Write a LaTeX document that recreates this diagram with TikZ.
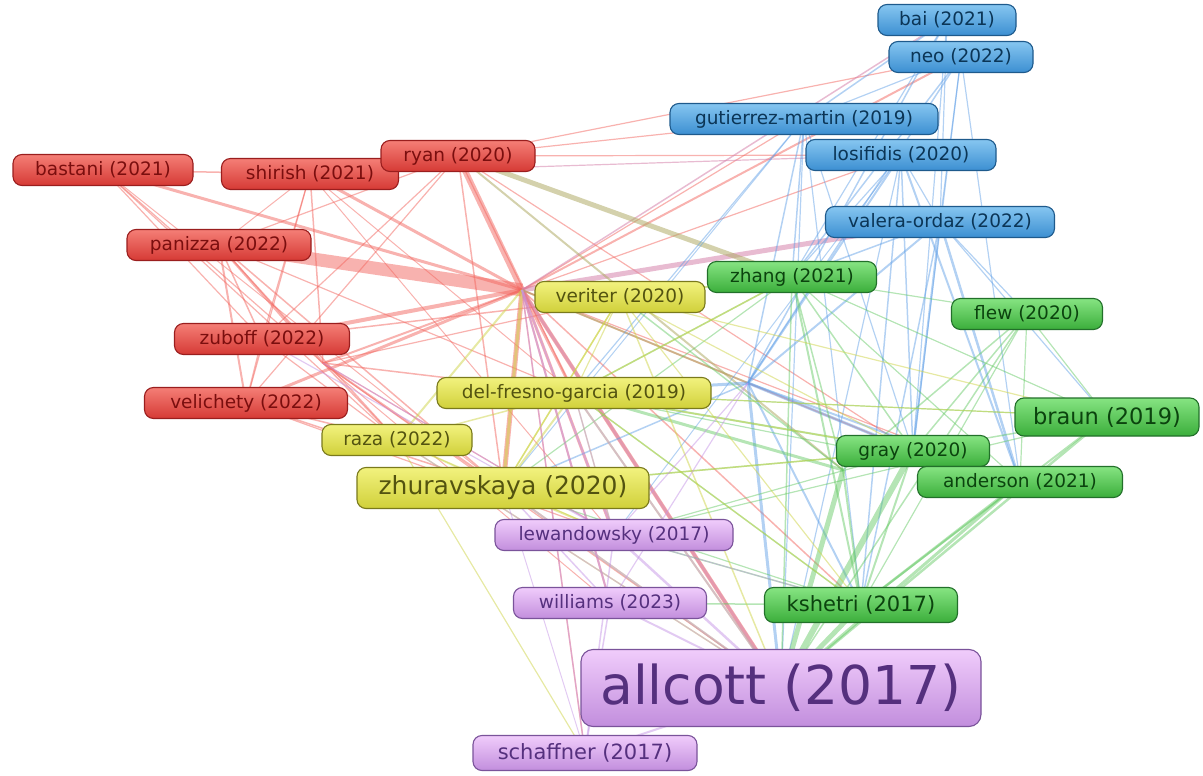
\documentclass[tikz,border=0pt]{standalone}
\usepackage{fontspec}
\setmainfont{DejaVu Sans}
\pgfdeclarelayer{bg}
\pgfsetlayers{bg,main}
\definecolor{eRc}{HTML}{F2665F}
\definecolor{eBc}{HTML}{5E9EE6}
\definecolor{eGc}{HTML}{62C862}
\definecolor{eYc}{HTML}{CED448}
\definecolor{ePc}{HTML}{C596E6}
\definecolor{eMc}{HTML}{D684AC}
\definecolor{eOc}{HTML}{B0AC68}
\definecolor{rT}{HTML}{F47E76}\definecolor{rB}{HTML}{D63A35}\definecolor{rD}{HTML}{9A1E1E}\definecolor{rX}{HTML}{7A0E0E}
\definecolor{bT}{HTML}{86C6F0}\definecolor{bB}{HTML}{3C8FD2}\definecolor{bD}{HTML}{1E5A8C}\definecolor{bX}{HTML}{0B3556}
\definecolor{gT}{HTML}{86E482}\definecolor{gB}{HTML}{3BAE3B}\definecolor{gD}{HTML}{22702A}\definecolor{gX}{HTML}{0B430E}
\definecolor{yT}{HTML}{F2F27E}\definecolor{yB}{HTML}{D0D03A}\definecolor{yD}{HTML}{7A7A1C}\definecolor{yX}{HTML}{535310}
\definecolor{pT}{HTML}{F0CCFB}\definecolor{pB}{HTML}{C28EDD}\definecolor{pD}{HTML}{7A539A}\definecolor{pX}{HTML}{55307E}
\tikzset{
  lab/.style={rounded corners=9pt, line width=1.1pt, minimum height=31pt, inner sep=0pt, align=center, font=\fontsize{18.5}{18.5}\selectfont},
  nR/.style={draw=rD, top color=rT, bottom color=rB, text=rX},
  nB/.style={draw=bD, top color=bT, bottom color=bB, text=bX},
  nG/.style={draw=gD, top color=gT, bottom color=gB, text=gX},
  nY/.style={draw=yD, top color=yT, bottom color=yB, text=yX},
  nP/.style={draw=pD, top color=pT, bottom color=pB, text=pX},
  eR/.style={draw=eRc, opacity=0.5},
  eB/.style={draw=eBc, opacity=0.47},
  eG/.style={draw=eGc, opacity=0.47},
  eY/.style={draw=eYc, opacity=0.5},
  eP/.style={draw=ePc, opacity=0.5},
  eM/.style={draw=eMc, opacity=0.55},
  eO/.style={draw=eOc, opacity=0.55},
}
\begin{document}
\begin{tikzpicture}[x=1pt,y=-1pt]
\useasboundingbox (0,0) rectangle (1203,776);
% hidden hub points
\coordinate (hR) at (522,290);
\coordinate (hZ) at (323,363);
\coordinate (hB) at (748,383);
\coordinate (hG) at (843,470);
% blue cluster
\node[lab,nB,minimum width=138pt] (bai) at (947,20) {bai (2021)};
\node[lab,nB,minimum width=144pt] (neo) at (961,57) {neo (2022)};
\node[lab,nB,minimum width=268pt] (gut) at (804,119) {gutierrez-martin (2019)};
\node[lab,nB,minimum width=190pt] (los) at (901,155) {losifidis (2020)};
\node[lab,nB,minimum width=229pt] (val) at (940,222) {valera-ordaz (2022)};
% red cluster
\node[lab,nR,minimum width=180pt] (bas) at (103,170) {bastani (2021)};
\node[lab,nR,minimum width=177pt] (shi) at (310,174) {shirish (2021)};
\node[lab,nR,minimum width=154pt] (ryan) at (458,156) {ryan (2020)};
\node[lab,nR,minimum width=184pt] (pan) at (219,245) {panizza (2022)};
\node[lab,nR,minimum width=175pt] (zub) at (262,339) {zuboff (2022)};
\node[lab,nR,minimum width=203pt] (vel) at (246,403) {velichety (2022)};
% yellow cluster
\node[lab,nY,minimum width=170pt] (ver) at (620,297) {veriter (2020)};
\node[lab,nY,minimum width=274pt] (del) at (574,393) {del-fresno-garcia (2019)};
\node[lab,nY,minimum width=150pt] (raza) at (397,440) {raza (2022)};
\node[lab,nY,minimum width=292pt,minimum height=41pt,font=\fontsize{25}{25}\selectfont] (zhu) at (503,488) {zhuravskaya (2020)};
% green cluster
\node[lab,nG,minimum width=169pt] (zha) at (792,277) {zhang (2021)};
\node[lab,nG,minimum width=151pt] (flew) at (1027,314) {flew (2020)};
\node[lab,nG,minimum width=184pt,minimum height=38pt,font=\fontsize{22.5}{22.5}\selectfont] (braun) at (1107,417) {braun (2019)};
\node[lab,nG,minimum width=153pt] (gray) at (913,451) {gray (2020)};
\node[lab,nG,minimum width=205pt] (and) at (1020,482) {anderson (2021)};
\node[lab,nG,minimum width=193pt,minimum height=35pt,font=\fontsize{21}{21}\selectfont] (ksh) at (861,605) {kshetri (2017)};
% purple cluster
\node[lab,nP,minimum width=238pt] (lew) at (614,535) {lewandowsky (2017)};
\node[lab,nP,minimum width=193pt] (wil) at (610,603) {williams (2023)};
\node[lab,nP,minimum width=400pt,minimum height=77pt,rounded corners=12pt,font=\fontsize{53.5}{53.5}\selectfont] (all) at (781,688) {allcott (2017)};
\node[lab,nP,minimum width=224pt,minimum height=35pt,font=\fontsize{21}{21}\selectfont] (sch) at (585,753) {schaffner (2017)};
% links
\begin{pgfonlayer}{bg}
\foreach \a/\b/\w in {pan/hR/13, ryan/hR/6, bas/shi/1.5, bas/hR/3, bas/hZ/1.2, bas/zub/1.2, bas/raza/1.2, bas/zhu/1, shi/hR/3, shi/zub/1.2, shi/vel/1.2, shi/hZ/1.5, shi/del/1, shi/lew/1, pan/zub/1.5, pan/vel/2, pan/hZ/2.5, pan/raza/1.5, pan/zhu/1.5, pan/del/1.2, pan/ryan/1.2, pan/shi/1, zub/hR/4, zub/ver/1.5, zub/vel/1.5, vel/hR/3, hZ/hR/2, hZ/del/1.5, hZ/zhu/2, hZ/raza/1.5, hZ/lew/1.2, hZ/all/1.2, hZ/wil/1, hR/zhu/5, hR/del/3, hR/lew/3, hR/all/4, hR/wil/2, hR/sch/1.5, hR/gray/1.5, hR/and/1.2, hR/ksh/1.5, hR/neo/2, hR/gut/1.2, hR/los/1.2, ryan/gut/1.2, ryan/los/1.2, ryan/neo/1.2, ryan/zub/1.2, ryan/vel/1.2, ryan/del/1.2, ryan/gray/1.2, ryan/zhu/1.5, vel/zhu/1.5, vel/raza/1.5, vel/lew/1.2, shi/ryan/1.5, hZ/ver/1.2, zub/raza/1.2}
  \draw[eR,line width=\w pt] (\a.center) -- (\b.center);
\foreach \a/\b/\w in {hR/val/5, hR/bai/1.5, shi/los/1.2, all/hR/3}
  \draw[eM,line width=\w pt] (\a.center) -- (\b.center);
\foreach \a/\b/\w in {ryan/zha/5, hR/hB/2, ryan/hG/2}
  \draw[eO,line width=\w pt] (\a.center) -- (\b.center);
\foreach \a/\b/\w in {hB/gut/1.5, hB/los/2, hB/val/2, hB/neo/1.5, hB/bai/1.5, hB/gray/3, hB/ksh/2, hB/all/3, hB/and/2, hB/del/3, hB/zhu/1.5, bai/gut/1.5, bai/val/1.2, bai/zha/1.2, bai/gray/1.2, neo/zha/1.5, neo/gray/1.2, neo/and/1.2, neo/val/1.2, neo/gut/1.2, gut/zha/1.5, gut/del/1.2, gut/gray/1.2, gut/ksh/1.2, gut/all/1.2, los/gray/1.5, los/ksh/1.5, los/and/2, los/val/1.2, los/zha/1.2, los/all/1.2, val/gray/2, val/ksh/1.5, val/and/2.5, val/flew/1.2, val/braun/1.2, val/zha/1.5, los/lew/1, gut/zhu/1}
  \draw[eB,line width=\w pt] (\a.center) -- (\b.center);
\foreach \a/\b/\w in {gray/all/6, ksh/all/5, and/all/3, braun/all/2.5, flew/all/1.5, zha/all/1.5, hG/all/5, hG/ksh/2, zha/hG/1.5, del/hG/3, ver/hG/1.5, flew/hG/1.5, braun/ksh/2, and/ksh/2.5, flew/ksh/1.2, gray/ksh/2, zha/ksh/2, zha/flew/1.2, zha/gray/1.5, zha/and/1.2, zha/braun/1.2, flew/braun/1.2, flew/gray/1.5, flew/and/1.2, braun/gray/1.5, braun/lew/1.2, ksh/wil/1.5, ksh/lew/1.5, ksh/del/1.5, ksh/zhu/1.2, gray/del/2, gray/zhu/1.5, gray/lew/1.2, zha/del/1.5, zha/ver/1.2, zha/zhu/1.2, and/del/1.2, braun/del/1.2}
  \draw[eG,line width=\w pt] (\a.center) -- (\b.center);
\foreach \a/\b/\w in {zhu/hR/3, zhu/all/2, zhu/lew/2, zhu/del/2, zhu/raza/1.5, zhu/ver/1.5, del/all/2, del/gray/1.5, del/ksh/1.2, del/zha/1.5, del/braun/1.2, raza/hR/2, raza/del/1.5, raza/all/1.5, raza/sch/1.2, ver/zha/1.5, ver/gray/1.2, ver/braun/1.2, ver/all/1.5, ver/ksh/1.2, ver/del/1.2, ver/zhu/1.5, raza/lew/1.2, del/lew/1.2, zhu/gray/1.5}
  \draw[eY,line width=\w pt] (\a.center) -- (\b.center);
\foreach \a/\b/\w in {all/lew/2.5, all/wil/2, all/sch/2, all/zhu/2, all/del/2, sch/wil/1.5, sch/lew/1.5, sch/hR/1.2, lew/hR/2, lew/zub/1.2, lew/hZ/1.2, lew/ksh/1, wil/hR/2, wil/zhu/1.5, lew/del/1.5, lew/hB/1.2, wil/hB/1.2, all/raza/1.2, sch/zhu/1}
  \draw[eP,line width=\w pt] (\a.center) -- (\b.center);
\end{pgfonlayer}
\end{tikzpicture}
\end{document}
